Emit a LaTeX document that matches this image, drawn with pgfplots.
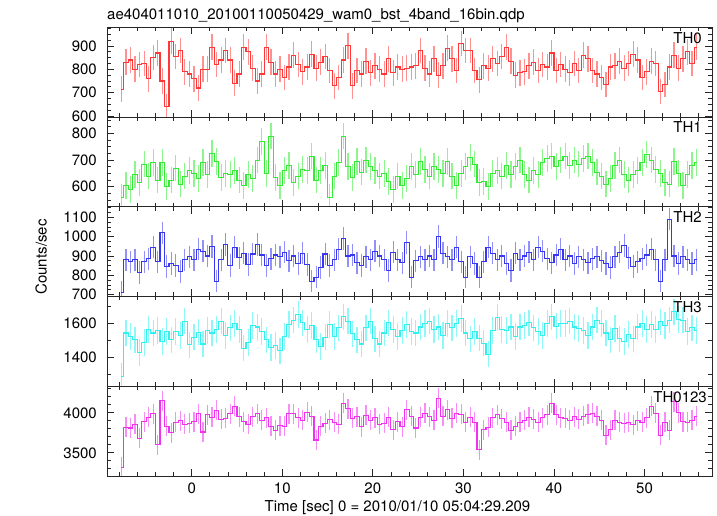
\documentclass[border=0pt]{standalone}
\usepackage{fontspec}
\setmainfont{TeX Gyre Heros}
\usepackage{pgfplots}
\usepackage{pgfplotstable}
\pgfplotsset{compat=1.18}
\definecolor{cR}{RGB}{255,55,55}
\definecolor{cG}{RGB}{50,235,50}
\definecolor{cB}{RGB}{55,55,240}
\definecolor{cC}{RGB}{50,240,240}
\definecolor{cM}{RGB}{240,50,240}

\pgfplotstableread[row sep=\\]{v\\
715\\ 830\\ 840\\ 800\\ 820\\ 825\\ 760\\ 850\\
870\\ 750\\ 640\\ 920\\ 855\\ 880\\ 790\\ 780\\
760\\ 720\\ 800\\ 800\\ 895\\ 820\\ 840\\ 880\\
840\\ 740\\ 780\\ 895\\ 875\\ 805\\ 750\\ 780\\
895\\ 830\\ 780\\ 800\\ 765\\ 810\\ 860\\ 820\\
790\\ 810\\ 865\\ 805\\ 830\\ 855\\ 795\\ 730\\
765\\ 840\\ 900\\ 730\\ 795\\ 780\\ 835\\ 785\\
815\\ 800\\ 780\\ 845\\ 785\\ 810\\ 800\\ 805\\
810\\ 815\\ 880\\ 805\\ 780\\ 845\\ 775\\ 815\\
890\\ 845\\ 795\\ 910\\ 880\\ 880\\ 795\\ 755\\
815\\ 805\\ 845\\ 825\\ 855\\ 895\\ 835\\ 775\\
785\\ 790\\ 815\\ 830\\ 795\\ 820\\ 810\\ 870\\
795\\ 820\\ 800\\ 785\\ 825\\ 795\\ 860\\ 845\\
795\\ 780\\ 765\\ 735\\ 810\\ 815\\ 835\\ 805\\
825\\ 865\\ 840\\ 765\\ 790\\ 835\\ 825\\ 705\\
735\\ 810\\ 860\\ 805\\ 845\\ 875\\ 825\\ 895\\
}\thzero

\pgfplotstableread[row sep=\\]{v\\
560\\ 605\\ 590\\ 645\\ 615\\ 685\\ 640\\ 690\\
625\\ 690\\ 600\\ 625\\ 670\\ 610\\ 640\\ 660\\
650\\ 630\\ 690\\ 645\\ 725\\ 695\\ 635\\ 650\\
645\\ 660\\ 625\\ 605\\ 645\\ 630\\ 700\\ 770\\
650\\ 790\\ 635\\ 605\\ 660\\ 680\\ 615\\ 640\\
665\\ 660\\ 715\\ 625\\ 660\\ 680\\ 560\\ 640\\
690\\ 790\\ 675\\ 635\\ 695\\ 655\\ 700\\ 675\\
660\\ 640\\ 650\\ 620\\ 590\\ 640\\ 605\\ 630\\
675\\ 645\\ 695\\ 665\\ 640\\ 675\\ 665\\ 650\\
695\\ 640\\ 605\\ 650\\ 675\\ 710\\ 685\\ 615\\
620\\ 600\\ 650\\ 660\\ 640\\ 680\\ 645\\ 675\\
700\\ 645\\ 625\\ 660\\ 645\\ 690\\ 705\\ 715\\
675\\ 700\\ 715\\ 680\\ 700\\ 685\\ 705\\ 715\\
690\\ 655\\ 640\\ 610\\ 630\\ 680\\ 700\\ 645\\
625\\ 645\\ 660\\ 690\\ 720\\ 700\\ 665\\ 650\\
615\\ 610\\ 695\\ 650\\ 605\\ 645\\ 680\\ 690\\
}\thone

\pgfplotstableread[row sep=\\]{v\\
710\\ 880\\ 870\\ 880\\ 815\\ 870\\ 885\\ 945\\
870\\ 1020\\ 845\\ 860\\ 850\\ 820\\ 880\\ 895\\
880\\ 935\\ 925\\ 900\\ 950\\ 770\\ 880\\ 960\\
850\\ 945\\ 890\\ 915\\ 855\\ 910\\ 960\\ 905\\
850\\ 885\\ 905\\ 895\\ 920\\ 875\\ 900\\ 860\\
915\\ 855\\ 770\\ 790\\ 840\\ 910\\ 850\\ 880\\
935\\ 990\\ 900\\ 905\\ 865\\ 850\\ 895\\ 880\\
925\\ 900\\ 880\\ 825\\ 920\\ 880\\ 865\\ 970\\
790\\ 875\\ 895\\ 880\\ 900\\ 880\\ 1000\\ 915\\
895\\ 880\\ 945\\ 870\\ 790\\ 895\\ 860\\ 790\\
870\\ 945\\ 915\\ 880\\ 900\\ 860\\ 825\\ 915\\
880\\ 900\\ 920\\ 880\\ 945\\ 925\\ 885\\ 865\\
905\\ 935\\ 880\\ 900\\ 860\\ 895\\ 880\\ 865\\
885\\ 895\\ 875\\ 860\\ 840\\ 895\\ 920\\ 955\\
890\\ 845\\ 870\\ 885\\ 905\\ 935\\ 880\\ 770\\
880\\ 1090\\ 900\\ 860\\ 895\\ 880\\ 860\\ 880\\
}\thtwo

\pgfplotstableread[row sep=\\]{v\\
1290\\ 1545\\ 1525\\ 1505\\ 1430\\ 1490\\ 1565\\ 1545\\
1560\\ 1495\\ 1555\\ 1505\\ 1555\\ 1530\\ 1615\\ 1475\\
1520\\ 1550\\ 1480\\ 1560\\ 1545\\ 1565\\ 1615\\ 1530\\
1575\\ 1600\\ 1565\\ 1455\\ 1490\\ 1590\\ 1580\\ 1555\\
1505\\ 1460\\ 1470\\ 1440\\ 1525\\ 1595\\ 1620\\ 1655\\
1605\\ 1565\\ 1590\\ 1505\\ 1465\\ 1520\\ 1595\\ 1525\\
1575\\ 1640\\ 1615\\ 1540\\ 1505\\ 1480\\ 1575\\ 1615\\
1510\\ 1480\\ 1545\\ 1605\\ 1565\\ 1525\\ 1560\\ 1595\\
1555\\ 1545\\ 1580\\ 1600\\ 1615\\ 1565\\ 1580\\ 1530\\
1600\\ 1575\\ 1600\\ 1630\\ 1545\\ 1510\\ 1555\\ 1515\\
1485\\ 1420\\ 1560\\ 1635\\ 1565\\ 1560\\ 1580\\ 1525\\
1580\\ 1590\\ 1605\\ 1575\\ 1555\\ 1530\\ 1600\\ 1640\\
1585\\ 1600\\ 1600\\ 1615\\ 1580\\ 1570\\ 1560\\ 1530\\
1580\\ 1620\\ 1600\\ 1545\\ 1505\\ 1570\\ 1510\\ 1495\\
1535\\ 1510\\ 1580\\ 1600\\ 1565\\ 1595\\ 1565\\ 1610\\
1590\\ 1620\\ 1670\\ 1625\\ 1620\\ 1555\\ 1575\\ 1560\\
}\ththree

\pgfplotstableread[row sep=\\]{v\\
3320\\ 3820\\ 3810\\ 3860\\ 3680\\ 3890\\ 3945\\ 3990\\
3600\\ 4150\\ 3830\\ 3750\\ 3880\\ 3900\\ 3860\\ 3870\\
3890\\ 3990\\ 3760\\ 3975\\ 3945\\ 4030\\ 3920\\ 3930\\
3990\\ 4080\\ 3950\\ 3890\\ 3860\\ 3950\\ 3990\\ 3905\\
3940\\ 3830\\ 3780\\ 3840\\ 3830\\ 3990\\ 3990\\ 3940\\
3905\\ 4010\\ 3960\\ 3660\\ 3830\\ 3870\\ 3915\\ 3880\\
3860\\ 4120\\ 4050\\ 3930\\ 3950\\ 3825\\ 3970\\ 3905\\
3940\\ 3855\\ 3870\\ 3945\\ 3790\\ 3890\\ 3825\\ 4040\\
3960\\ 3810\\ 3945\\ 3995\\ 3950\\ 3905\\ 4180\\ 3960\\
4040\\ 3935\\ 3995\\ 3980\\ 3885\\ 3945\\ 3880\\ 3540\\
3790\\ 3820\\ 3940\\ 3975\\ 3925\\ 3885\\ 3780\\ 3830\\
3880\\ 3905\\ 3945\\ 3920\\ 3885\\ 3940\\ 3975\\ 4120\\
3975\\ 3940\\ 3930\\ 3905\\ 3950\\ 3920\\ 3960\\ 3980\\
3995\\ 3955\\ 3910\\ 3720\\ 3790\\ 3905\\ 3880\\ 3870\\
3880\\ 3850\\ 3900\\ 3880\\ 3940\\ 4080\\ 3995\\ 3720\\
3880\\ 3780\\ 4140\\ 4000\\ 3890\\ 3880\\ 3905\\ 3960\\
}\thall

\pgfplotsset{
  lcbase/.style={
    scale only axis, width=605pt, height=89.75pt, anchor=south west,
    xmin=-9.35, xmax=57.45,
    xtick={0,10,...,50}, minor xtick={-8,-6,...,56},
    tick align=inside,
    major tick length=7pt, minor tick length=4pt,
    tick style={line width=0.8pt, black!85},
    axis line style={line width=0.9pt, black!85},
    font=\fontsize{15}{18}\selectfont,
    ticklabel style={font=\fontsize{15}{18}\selectfont},
    /pgf/number format/assume math mode=true,
    /pgf/number format/set thousands separator={},
    yticklabel style={inner sep=0pt, xshift=-10pt},
    xticklabel style={inner sep=0pt, yshift=-7pt},
  },
}

\newcommand{\lcplot}[3]{%
  \addplot[forget plot, draw=none, mark=none,
    error bars/.cd, y dir=both, y fixed=#2, error mark=none,
    error bar style={line width=1.2pt, draw=#1!55!white}]
    table[x expr=\coordindex*0.5-7.75, y=v] {#3};
  \addplot[draw=#1, line width=1.1pt, const plot mark mid, mark=none]
    table[x expr=\coordindex*0.5-7.75, y=v] {#3};
}

\begin{document}
\begin{tikzpicture}
\path[use as bounding box] (0pt,0pt) rectangle (717pt,516pt);

\begin{axis}[lcbase, at={(107pt,399pt)}, xticklabels={},
  ymin=596, ymax=980, ytick={600,700,800,900}, minor ytick={625,650,...,975}]
\lcplot{cR}{55}{\thzero}
\node[anchor=base east, inner sep=0pt] at (rel axis cs:0.9835,0.823) {TH0};
\end{axis}

\begin{axis}[lcbase, at={(107pt,309.25pt)}, xticklabels={},
  ymin=525, ymax=862, ytick={600,700,800}, minor ytick={525,550,...,850}]
\lcplot{cG}{50}{\thone}
\node[anchor=base east, inner sep=0pt] at (rel axis cs:0.9835,0.823) {TH1};
\end{axis}

\begin{axis}[lcbase, at={(107pt,219.5pt)}, xticklabels={},
  ymin=690, ymax=1155, ytick={700,800,900,1000,1100}, minor ytick={700,725,...,1150}]
\lcplot{cB}{58}{\thtwo}
\node[anchor=base east, inner sep=0pt] at (rel axis cs:0.9835,0.823) {TH2};
\end{axis}

\begin{axis}[lcbase, at={(107pt,129.75pt)}, xticklabels={},
  ymin=1231, ymax=1760, ytick={1400,1600}, minor ytick={1300,1500,1700}]
\lcplot{cC}{78}{\ththree}
\node[anchor=base east, inner sep=0pt] at (rel axis cs:0.9835,0.823) {TH3};
\end{axis}

\begin{axis}[lcbase, at={(107pt,40pt)},
  ymin=3210, ymax=4333, ytick={3500,4000}, minor ytick={3300,3400,3600,3700,3800,3900,4100,4200,4300}]
\lcplot{cM}{125}{\thall}
\node[anchor=base east, inner sep=0pt] at (rel axis cs:0.9917,0.818) {TH0123};
\end{axis}

\node[anchor=base west, inner sep=0pt, font=\fontsize{15}{18}\selectfont] at (107pt,496pt) {ae404011010\_20100110050429\_wam0\_bst\_4band\_16bin.qdp};
\node[anchor=base, inner sep=0pt, font=\fontsize{15}{18}\selectfont] at (397.5pt,4.3pt) {Time [sec] 0 = 2010/01/10 05:04:29.209};
\node[anchor=base, rotate=90, inner sep=0pt, font=\fontsize{15}{18}\selectfont] at (46.5pt,259pt) {Counts/sec};
\end{tikzpicture}
\end{document}
